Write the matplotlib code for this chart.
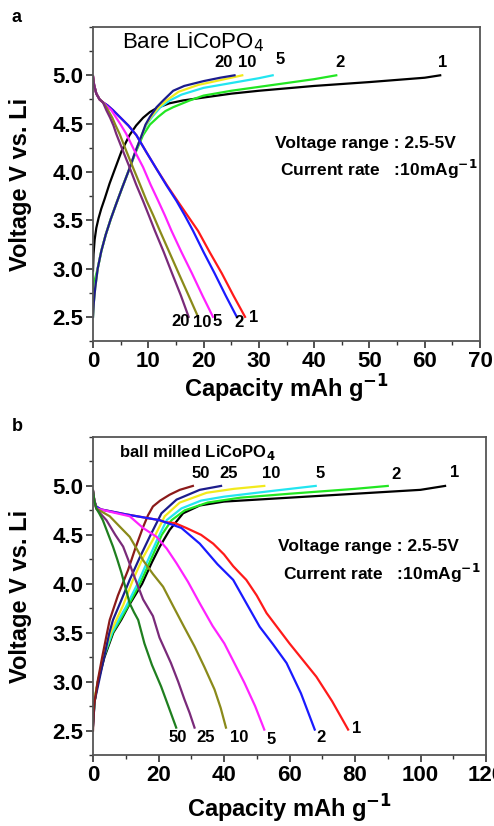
import numpy as np
import matplotlib
matplotlib.use("Agg")
import matplotlib.pyplot as plt
from matplotlib.ticker import MultipleLocator

plt.rcParams['font.family'] = ['Liberation Sans', 'DejaVu Sans']

# ---------------- panel a : bare LiCoPO4 ----------------
a_cycles = ['1', '2', '5', '10', '20']
a_chg_colors = ['#000000', '#22e622', '#22e5f0', '#f2ea1c', '#1c1c8c']
a_dis_colors = ['#ff1a1a', '#1a1aff', '#ff22ff', '#8a8a1a', '#7a2a7a']

a_chg_cap = [
    [0, 0.1, 0.3, 0.6, 1.0, 1.5, 2.1, 3.0, 3.9, 5.2, 6.6, 7.8, 9.05, 10.3, 11.5, 13.8,
     16.3, 20, 25, 30, 40, 50, 60, 62.8],
    [0, 0.3, 0.85, 1.5, 2.3, 3.2, 4.2, 5.3, 6.5, 7.7, 9.05, 10.3, 11.8, 13.1, 14.5, 17.5,
     20, 25, 30, 35, 40, 44],
    [0, 0.15, 0.4, 0.85, 1.5, 2.3, 3.2, 4.2, 5.3, 6.5, 7.6, 8.75, 9.7, 10.7, 12.2, 13.9,
     16, 20, 25, 30, 32.5],
    [0, 0.15, 0.4, 0.85, 1.5, 2.3, 3.2, 4.2, 5.3, 6.5, 7.6, 8.75, 9.6, 10.5, 11.9, 13.3,
     15.5, 19, 23, 27],
    [0, 0.15, 0.4, 0.85, 1.5, 2.3, 3.2, 4.2, 5.3, 6.5, 7.6, 8.75, 9.5, 10.3, 11.5, 12.7,
     14.5, 16.5, 20, 23, 25.6],
]
a_chg_v = [
    [2.98, 3.15, 3.3, 3.42, 3.52, 3.62, 3.72, 3.88, 4.02, 4.22, 4.38, 4.48, 4.56, 4.62,
     4.66, 4.71, 4.74, 4.77, 4.81, 4.84, 4.89, 4.93, 4.975, 5.0],
    [2.75, 2.88, 3.0, 3.18, 3.35, 3.51, 3.67, 3.84, 4.02, 4.2, 4.38, 4.49, 4.57, 4.63,
     4.67, 4.74, 4.79, 4.84, 4.88, 4.92, 4.96, 5.0],
    [2.5, 2.65, 2.8, 3.0, 3.18, 3.35, 3.51, 3.67, 3.84, 4.02, 4.2, 4.37, 4.49, 4.57,
     4.67, 4.74, 4.8, 4.87, 4.92, 4.97, 5.0],
    [2.5, 2.65, 2.8, 3.0, 3.18, 3.35, 3.51, 3.67, 3.84, 4.02, 4.2, 4.37, 4.49, 4.57,
     4.67, 4.74, 4.83, 4.9, 4.95, 5.0],
    [2.5, 2.65, 2.8, 3.0, 3.18, 3.35, 3.51, 3.67, 3.84, 4.02, 4.2, 4.37, 4.49, 4.57,
     4.67, 4.74, 4.84, 4.89, 4.94, 4.975, 5.0],
]
a_dis_cap = [
    [0, 0.2, 0.6, 1.2, 1.8, 2.6, 3.6, 5.0, 6.4, 7.85, 9.7, 11.5, 13.4, 15.4, 17.2, 19.0, 21.1,
     23.3, 25.4, 27.5],
    [0, 0.2, 0.6, 1.2, 1.8, 2.6, 3.6, 5.0, 6.4, 7.85, 9.7, 11.5, 13.3, 15.1, 16.6, 18.1, 20.0,
     22.0, 24.0, 26.0],
    [0, 0.2, 0.6, 1.2, 1.8, 2.5, 3.3, 4.1, 5.0, 6.0, 7.5, 9.05, 10.4, 11.8, 13.0, 14.2, 16.0,
     17.9, 19.8, 21.7],
    [0, 0.2, 0.6, 1.2, 1.8, 2.3, 2.7, 3.5, 4.1, 4.8, 6.0, 7.2, 8.5, 9.7, 10.9, 12.1, 13.8,
     15.5, 17.3, 19.0],
    [0, 0.2, 0.6, 1.2, 1.8, 2.1, 2.4, 3.1, 3.7, 4.2, 5.4, 6.6, 7.8, 9.05, 10.1, 11.2, 12.8,
     14.3, 15.9, 17.3],
]
a_dis_v = [
    [4.99, 4.9, 4.81, 4.75, 4.72, 4.69, 4.64, 4.56, 4.48, 4.38, 4.2, 4.03, 3.86, 3.69, 3.54,
     3.39, 3.17, 2.95, 2.72, 2.5],
    [4.99, 4.9, 4.81, 4.75, 4.72, 4.69, 4.64, 4.56, 4.48, 4.38, 4.2, 4.03, 3.86, 3.7, 3.55,
     3.39, 3.17, 2.95, 2.72, 2.5],
    [4.99, 4.9, 4.81, 4.75, 4.72, 4.68, 4.64, 4.57, 4.49, 4.395, 4.22, 4.05, 3.87, 3.7, 3.55,
     3.39, 3.17, 2.95, 2.72, 2.5],
    [4.99, 4.9, 4.81, 4.75, 4.72, 4.68, 4.64, 4.56, 4.48, 4.395, 4.22, 4.05, 3.87, 3.7, 3.55,
     3.39, 3.17, 2.95, 2.72, 2.5],
    [4.99, 4.9, 4.81, 4.75, 4.72, 4.68, 4.64, 4.56, 4.48, 4.395, 4.22, 4.05, 3.87, 3.7, 3.55,
     3.39, 3.17, 2.95, 2.72, 2.5],
]
a_top_lbl_x = [63.2, 44.6, 33.8, 27.8, 23.6]
a_top_lbl_v = [5.05, 5.05, 5.09, 5.05, 5.05]
a_bot_lbl_x = [29.0, 26.4, 22.5, 19.7, 15.8]
a_bot_lbl_v = [2.49, 2.44, 2.45, 2.44, 2.45]

# ---------------- panel b : ball milled LiCoPO4 ----------------
b_cycles = ['1', '2', '5', '10', '25', '50']
b_chg_colors = ['#000000', '#22e622', '#22e5f0', '#f2ea1c', '#1c1c8c', '#8b1a1a']
b_dis_colors = ['#ff1a1a', '#1a1aff', '#ff22ff', '#8a8a1a', '#7a2a7a', '#1f7f1f']

b_chg_cap = [
    [0, 0.5, 1.5, 3.5, 6.2, 8.6, 11, 15, 18, 20.4, 23.4, 27.5, 32.6, 40, 60, 80, 100, 107.5],
    [0, 0.5, 1.5, 3.3, 6.0, 8.3, 10.5, 14.3, 17.3, 21, 24, 28, 35, 45, 60, 80, 90],
    [0, 0.6, 1.6, 3.2, 5.8, 7.8, 10, 13.6, 16.5, 19.6, 22.5, 27, 33, 40, 55, 68],
    [0, 0.6, 1.5, 3.1, 5.4, 7.1, 9.2, 12.2, 15.3, 18.3, 21.9, 26.5, 34.7, 43, 52.3],
    [0, 0.5, 1.8, 3.4, 5.0, 6.1, 8.5, 11.2, 14.3, 17.3, 20.9, 25.5, 32.6, 39.1],
    [0, 0.3, 1.4, 2.8, 4.3, 5.1, 7.6, 10.7, 13.0, 15.3, 16.8, 18.3, 20.5, 23.4, 26.5, 30.5],
]
b_chg_v = [
    [2.55, 2.8, 3.0, 3.25, 3.5, 3.63, 3.78, 4.0, 4.22, 4.38, 4.55, 4.72, 4.8, 4.84, 4.88, 4.92,
     4.96, 5.0],
    [2.6, 2.8, 3.0, 3.25, 3.5, 3.63, 3.76, 4.0, 4.22, 4.5, 4.65, 4.75, 4.83, 4.88, 4.92, 4.97, 5.0],
    [2.6, 2.85, 3.0, 3.25, 3.5, 3.63, 3.76, 4.0, 4.22, 4.45, 4.65, 4.77, 4.85, 4.89, 4.95, 5.0],
    [2.6, 2.85, 3.0, 3.25, 3.5, 3.63, 3.78, 4.04, 4.27, 4.45, 4.69, 4.83, 4.93, 4.97, 5.0],
    [2.55, 2.8, 3.0, 3.25, 3.5, 3.63, 3.82, 4.04, 4.27, 4.48, 4.72, 4.86, 4.96, 5.0],
    [2.5, 2.75, 3.0, 3.25, 3.5, 3.63, 3.88, 4.14, 4.37, 4.58, 4.7, 4.79, 4.85, 4.91, 4.96, 5.0],
]
b_dis_cap = [
    [0, 0.4, 1.0, 2.4, 10, 20.3, 22, 25, 28.5, 33, 36.7, 40, 42.8, 44.5, 46.8, 50, 53, 60, 68.2,
     73, 77.9],
    [0, 0.4, 1.0, 2.4, 10, 20.3, 22, 27, 32.6, 38, 42.8, 46, 50.9, 55, 59.1, 63.5, 67.7],
    [0, 0.4, 1.0, 6, 11.2, 15.3, 19.4, 22.5, 25.5, 29, 32.6, 36.5, 40.1, 43, 46.2, 49.5, 52.3],
    [0, 0.4, 1.0, 2.5, 5.1, 8, 11.2, 13.3, 15.3, 18.3, 21.4, 24.5, 27.8, 31, 34, 37.1, 39, 40.6],
    [0, 0.4, 1.0, 2.2, 4.1, 6.8, 9.2, 10.7, 12.2, 13.8, 15.3, 18.3, 20.3, 23.8, 26, 27.9, 29.5, 31],
    [0, 0.4, 1.0, 1.9, 3.0, 4.6, 6.1, 7.4, 8.7, 10.0, 11.2, 12.5, 13.8, 15.7, 18, 20.8, 23, 25.4],
]
b_dis_v = [
    [4.95, 4.85, 4.79, 4.76, 4.71, 4.65, 4.63, 4.62, 4.57, 4.5, 4.41, 4.3, 4.18, 4.12, 4.04, 3.88,
     3.7, 3.39, 3.05, 2.8, 2.51],
    [4.95, 4.85, 4.79, 4.76, 4.71, 4.65, 4.63, 4.57, 4.41, 4.2, 4.04, 3.85, 3.56, 3.38, 3.19, 2.88,
     2.51],
    [4.95, 4.85, 4.77, 4.73, 4.69, 4.57, 4.48, 4.36, 4.21, 4.02, 3.8, 3.57, 3.39, 3.2, 2.99, 2.75,
     2.51],
    [4.95, 4.85, 4.77, 4.74, 4.69, 4.59, 4.48, 4.36, 4.24, 4.1, 3.97, 3.77, 3.56, 3.36, 3.15, 2.92,
     2.73, 2.53],
    [4.95, 4.85, 4.77, 4.72, 4.65, 4.5, 4.38, 4.25, 4.11, 3.97, 3.84, 3.67, 3.45, 3.19, 3.0, 2.82,
     2.68, 2.53],
    [4.95, 4.85, 4.77, 4.72, 4.65, 4.51, 4.38, 4.25, 4.11, 3.95, 3.8, 3.71, 3.63, 3.39, 3.17, 2.95,
     2.75, 2.53],
]
b_top_lbl_x = [110.5, 92.5, 69.5, 54.5, 41.5, 33.0]
b_top_lbl_v = [5.06, 5.04, 5.05, 5.05, 5.05, 5.05]
b_bot_lbl_x = [80.5, 69.5, 54.5, 44.5, 34.5, 26.0]
b_bot_lbl_v = [2.52, 2.43, 2.41, 2.43, 2.43, 2.43]

W, H = 494, 826
fig = plt.figure(figsize=(W / 100, H / 100), dpi=100)
ax_a = fig.add_axes([93 / W, 1 - 341 / H, 387 / W, 314 / H])
ax_b = fig.add_axes([93 / W, 1 - 755 / H, 393 / W, 318 / H])


def style(ax, xmax, xmaj):
    ax.set_xlim(0, xmax)
    ax.set_ylim(2.25, 5.5)
    ax.set_xticks(np.arange(0, xmax + 1, xmaj))
    ax.xaxis.set_minor_locator(MultipleLocator(xmaj / 2))
    ax.set_yticks([2.5, 3.0, 3.5, 4.0, 4.5, 5.0])
    ax.yaxis.set_minor_locator(MultipleLocator(0.25))
    ax.tick_params(which='major', direction='out', length=5, width=1.2,
                   labelsize=16, pad=2, colors='#333333', labelcolor='black')
    ax.tick_params(which='minor', direction='out', length=3, width=1.0, colors='#333333')
    for lab in ax.get_xticklabels() + ax.get_yticklabels():
        lab.set_fontweight('bold')
    for s in ax.spines.values():
        s.set_linewidth(1.3)
        s.set_color('#555555')
    ax.set_ylabel('Voltage V vs. Li', fontsize=17, fontweight='bold')
    ax.set_xlabel('Capacity mAh g$^{\\mathbf{-1}}$', fontsize=17, fontweight='bold')


# panel a
for i in range(len(a_cycles)):
    ax_a.plot(a_chg_cap[i], a_chg_v[i], color=a_chg_colors[i], lw=1.6)
for i in range(len(a_cycles)):
    ax_a.plot(a_dis_cap[i], a_dis_v[i], color=a_dis_colors[i], lw=1.6)
for i, c in enumerate(a_cycles):
    ax_a.text(a_top_lbl_x[i], a_top_lbl_v[i], c, fontsize=12, fontweight='bold', ha='center', va='bottom')
    ax_a.text(a_bot_lbl_x[i], a_bot_lbl_v[i], c, fontsize=12, fontweight='bold', ha='center', va='center')
style(ax_a, 70, 10)
ax_a.text(5.3, 5.34, 'Bare LiCoPO$_4$', fontsize=16, va='center')
ax_a.text(33.0, 4.29, 'Voltage range : 2.5-5V', fontsize=12.5, fontweight='bold', va='center')
ax_a.text(33.8, 4.03, 'Current rate   :10mAg$^{\\mathbf{-1}}$', fontsize=12.5, fontweight='bold', va='center')
ax_a.xaxis.set_label_coords(0.5, -0.1)
ax_a.yaxis.set_label_coords(-0.158, 0.5)

# panel b
for i in range(len(b_cycles)):
    ax_b.plot(b_chg_cap[i], b_chg_v[i], color=b_chg_colors[i], lw=1.6)
for i in range(len(b_cycles)):
    ax_b.plot(b_dis_cap[i], b_dis_v[i], color=b_dis_colors[i], lw=1.6)
for i, c in enumerate(b_cycles):
    ax_b.text(b_top_lbl_x[i], b_top_lbl_v[i], c, fontsize=12, fontweight='bold', ha='center', va='bottom')
    ax_b.text(b_bot_lbl_x[i], b_bot_lbl_v[i], c, fontsize=12, fontweight='bold', ha='center', va='center')
style(ax_b, 120, 20)
ax_b.text(8.0, 5.34, 'ball milled LiCoPO$_\\mathbf{4}$', fontsize=12, fontweight='bold', va='center')
ax_b.text(56.5, 4.38, 'Voltage range : 2.5-5V', fontsize=12.5, fontweight='bold', va='center')
ax_b.text(58.0, 4.11, 'Current rate   :10mAg$^{\\mathbf{-1}}$', fontsize=12.5, fontweight='bold', va='center')
ax_b.xaxis.set_label_coords(0.5, -0.118)
ax_b.yaxis.set_label_coords(-0.155, 0.5)

fig.text(17 / W, 1 - 18 / H, 'a', fontsize=13, fontweight='bold', ha='center', va='center')
fig.text(17 / W, 1 - 427 / H, 'b', fontsize=13, fontweight='bold', ha='center', va='center')

fig.savefig('out.png', dpi=100)
